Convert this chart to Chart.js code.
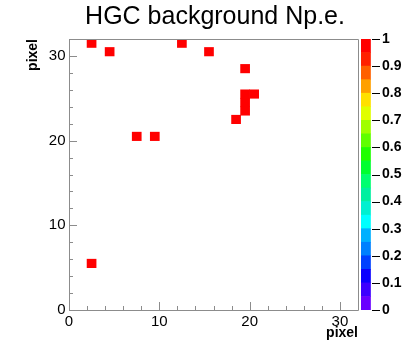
<!DOCTYPE html>
<html>
<head>
<meta charset="utf-8">
<script src="https://cdn.jsdelivr.net/npm/chart.js@4/dist/chart.umd.min.js"></script>
<style>
  html, body { margin: 0; padding: 0; background: #ffffff; }
  #wrap { position: relative; width: 405px; height: 342px; overflow: hidden; }
  canvas { position: absolute; top: 0; }
  #main { left: 0; }
  #bar { left: 358px; }
</style>
</head>
<body>
<div id="wrap">
  <canvas id="main" width="405" height="342"></canvas>
  <canvas id="bar" width="47" height="342"></canvas>
</div>
<script>
// ---- data (bin lower edges, 1x1 bins) ----
const titleText = "HGC background Np.e.";
const xAxisTitle = "pixel";
const yAxisTitle = "pixel";
const cellX = [2, 4, 7, 9, 12, 15, 19, 19, 20, 19, 19, 18, 2];
const cellY = [31, 30, 20, 20, 31, 30, 28, 25, 25, 24, 23, 22, 5];
const cellZ = [1, 1, 1, 1, 1, 1, 1, 1, 1, 1, 1, 1, 1];
const axisMin = 0;
const axisMax = 32;
const axisTickStep = 2;
const axisLabelEvery = 10;
const zMin = 0;
const zMax = 1;
const zLabelStep = 0.1;
// colour palette levels (bottom -> top), 20 contours of 0.05
const paletteColors = [
  "#6a00ff", "#3c00ff", "#0a00ff", "#0040ff", "#0080ff",
  "#00b0ff", "#00ffff", "#00f0d0", "#00f0a0", "#00ff70",
  "#00ff30", "#20ff00", "#60ff00", "#a0ff00", "#e0ff00",
  "#ffe000", "#ffa000", "#ff6000", "#ff2000", "#ff0000"
];

const FONT = "'Liberation Sans', Arial, Helvetica, sans-serif";
const FRAME = "#8c8c8c";
const nLevels = paletteColors.length;
const levelWidth = (zMax - zMin) / nLevels;

function colorFor(z) {
  let i = Math.floor((z - zMin) / levelWidth);
  if (i >= nLevels) i = nLevels - 1;
  if (i < 0) i = 0;
  return paletteColors[i];
}

const cells = cellX.map((x, i) => ({ x: x + 0.5, y: [cellY[i], cellY[i] + 1], z: cellZ[i] }));

function buildTicks(scale) {
  const t = [];
  for (let v = axisMin; v <= axisMax + 1e-9; v += axisTickStep) t.push({ value: v });
  scale.ticks = t;
}

const framePlugin = {
  id: 'frameTicks',
  afterDraw(chart) {
    const { ctx, chartArea: a } = chart;
    const xs = chart.scales.x, ys = chart.scales.y;
    ctx.save();
    ctx.strokeStyle = FRAME;
    ctx.lineWidth = 1;
    ctx.beginPath();
    ctx.rect(Math.round(a.left) + 0.5, Math.round(a.top) + 0.5,
             Math.round(a.right - a.left), Math.round(a.bottom - a.top));
    ctx.stroke();
    ctx.beginPath();
    xs.ticks.forEach(t => {
      const px = Math.round(xs.getPixelForValue(t.value)) + 0.5;
      const len = (t.value % axisLabelEvery === 0) ? 8 : 4;
      ctx.moveTo(px, a.bottom);
      ctx.lineTo(px, a.bottom - len);
    });
    ys.ticks.forEach(t => {
      const py = Math.round(ys.getPixelForValue(t.value)) + 0.5;
      const len = (t.value % axisLabelEvery === 0) ? 8 : 4;
      ctx.moveTo(a.left, py);
      ctx.lineTo(a.left + len, py);
    });
    ctx.stroke();
    ctx.restore();
  }
};

new Chart(document.getElementById('main'), {
  type: 'bar',
  data: {
    datasets: [{
      data: cells,
      backgroundColor: ctx => colorFor(ctx.raw ? ctx.raw.z : zMax),
      borderWidth: 0,
      barPercentage: 1,
      categoryPercentage: 1
    }]
  },
  options: {
    responsive: false,
    animation: false,
    events: [],
    layout: { padding: { left: 25, right: 0, top: 0, bottom: 0 } },
    plugins: {
      legend: { display: false },
      tooltip: { enabled: false },
      title: {
        display: true,
        text: titleText,
        color: '#000',
        font: { family: FONT, size: 25, weight: 'normal', lineHeight: 1.2 },
        padding: { top: 2, bottom: 7 }
      }
    },
    scales: {
      x: {
        type: 'linear',
        min: axisMin, max: axisMax,
        offset: false,
        afterBuildTicks: buildTicks,
        afterFit: s => { s.height = 32; },
        grid: { display: false, drawTicks: false, offset: false },
        border: { display: false },
        ticks: {
          autoSkip: false, maxRotation: 0, padding: 3, color: '#000',
          font: { family: FONT, size: 15 },
          callback: v => (v % axisLabelEvery === 0 ? String(v) : '')
        },
        title: {
          display: true, text: xAxisTitle, align: 'end', color: '#000',
          font: { family: FONT, size: 14, weight: 'bold' }, padding: 0
        }
      },
      y: {
        type: 'linear',
        min: axisMin, max: axisMax,
        afterBuildTicks: buildTicks,
        afterFit: s => { s.width = 44; },
        grid: { display: false, drawTicks: false },
        border: { display: false },
        ticks: {
          autoSkip: false, padding: 3.5, color: '#000',
          font: { family: FONT, size: 15 },
          callback: v => (v % axisLabelEvery === 0 ? String(v) : '')
        },
        title: {
          display: true, text: yAxisTitle, align: 'end', color: '#000',
          font: { family: FONT, size: 14, weight: 'bold' }, padding: 0
        }
      },
      yRight: {
        type: 'linear', position: 'right', display: true,
        min: 0, max: 1,
        afterFit: s => { s.width = 47; },
        grid: { display: false, drawTicks: false },
        border: { display: false },
        ticks: { display: false }
      }
    }
  },
  plugins: [framePlugin]
});

// ---- colour bar ----
const barTickPlugin = {
  id: 'barTicks',
  afterDatasetsDraw(chart) {
    const { ctx, chartArea: a } = chart;
    const ys = chart.scales.y;
    ctx.save();
    ctx.strokeStyle = '#000';
    ctx.lineWidth = 1;
    ctx.beginPath();
    ys.ticks.forEach(t => {
      const py = Math.round(ys.getPixelForValue(t.value)) + 0.5;
      ctx.moveTo(a.right - 8, py);
      ctx.lineTo(a.right, py);
    });
    ctx.stroke();
    ctx.restore();
  }
};

new Chart(document.getElementById('bar'), {
  type: 'bar',
  data: {
    labels: [''],
    datasets: paletteColors.map(c => ({
      data: [levelWidth],
      backgroundColor: c,
      borderWidth: 0,
      barPercentage: 1,
      categoryPercentage: 1
    }))
  },
  options: {
    responsive: false,
    animation: false,
    events: [],
    layout: { padding: { left: 3, right: 0, top: 39, bottom: 32 } },
    plugins: { legend: { display: false }, tooltip: { enabled: false }, title: { display: false } },
    scales: {
      x: { stacked: true, display: false, offset: false },
      y: {
        stacked: true, position: 'right',
        min: zMin, max: zMax,
        afterFit: s => { s.width = 25; },
        grid: { display: false, drawTicks: false },
        border: { display: false },
        ticks: {
          stepSize: zLabelStep, padding: 2, color: '#000',
          font: { family: FONT, size: 14, weight: 'bold' },
          callback: v => String(Math.round(v * 10) / 10)
        }
      }
    }
  },
  plugins: [barTickPlugin]
});
</script>
</body>
</html>
